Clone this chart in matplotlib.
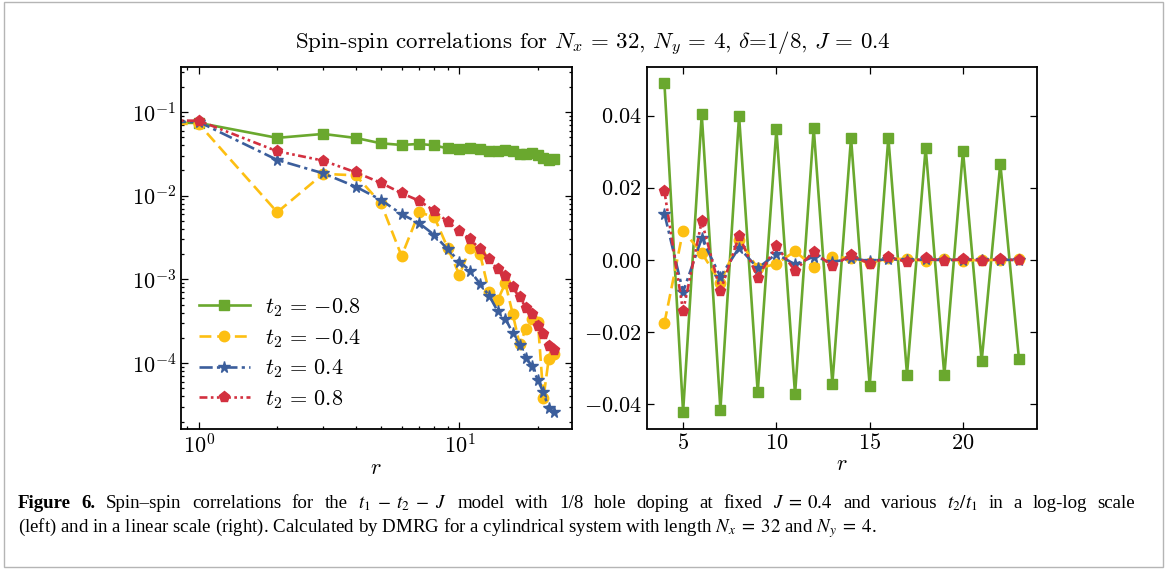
import numpy as np
import matplotlib
matplotlib.use('Agg')
import matplotlib.pyplot as plt
from matplotlib.ticker import FuncFormatter, FixedLocator, NullLocator
from matplotlib.patches import Rectangle

#=============================================================
# DATA: spin-spin correlation C(r), r = 0..23
r = np.arange(24)

c_m08 = [0.219, -0.074, 0.049, -0.0546, 0.0489, -0.0422, 0.0403, -0.0415,
         0.0399, -0.0367, 0.0362, -0.0373, 0.0365, -0.0343, 0.0338, -0.0349,
         0.0339, -0.0318, 0.0311, -0.0320, 0.0302, -0.0281, 0.0267, -0.0275]
c_m04 = [0.219, -0.072, 0.00634, 0.0182, -0.0175, 0.0081, 0.0019, -0.0063,
         0.0056, -0.0024, -0.00113, 0.0024, -0.0020, 0.00070, 0.00056, -0.00090,
         0.00039, 0.000169, -0.000255, 0.000337, -0.00031, 0.0000383, -0.000112, 0.000129]
c_p04 = [0.219, -0.076, 0.0267, -0.0185, 0.0128, -0.0089, 0.0060, -0.0047,
         0.0034, -0.0023, 0.00163, -0.00127, 0.00088, -0.00064, 0.00042, -0.00034,
         0.00023, -0.000164, 0.000115, -0.000092, 0.000062, -0.0000446, 0.0000288, -0.000026]
c_p08 = [0.219, -0.0787, 0.0339, -0.0262, 0.0190, -0.0142, 0.0107, -0.0087,
         0.0066, -0.0049, 0.0038, -0.0030, 0.0023, -0.00174, 0.00132, -0.00109,
         0.00080, -0.00061, 0.00046, -0.00039, 0.00028, -0.00022, 0.00016, -0.000142]

labels = [r'$t_2\,=\,{-0.8}$', r'$t_2\,=\,{-0.4}$', r'$t_2\,=\,0.4$', r'$t_2\,=\,0.8$']
r_min_lin = 4   # linear panel starts at r = 4

title = r'Spin-spin correlations for $N_x\,=\,32$, $N_y\,=\,4$, $\delta$=1/8, $J\,=\,0.4$'
caption1 = [('Figure', 'bold'), ('6.', 'bold')] + [(w, 'normal') for w in
            ['Spin–spin', 'correlations', 'for', 'the', r'$t_1\;-\;t_2\;-\;J$', 'model', 'with',
             '1/8', 'hole', 'doping', 'at', 'fixed', r'$J\;=\;0.4$', 'and', 'various',
             r'$t_2/t_1$', 'in', 'a', 'log-log', 'scale']]
caption2 = r'(left) and in a linear scale (right). Calculated by DMRG for a cylindrical system with length $N_x\;=\;32$ and $N_y\;=\;4$.'

#=============================================================
# STYLE
plt.rcParams['font.family'] = 'serif'
plt.rcParams['font.serif'] = ['cmr10']
plt.rcParams['mathtext.fontset'] = 'cm'
plt.rcParams['axes.formatter.use_mathtext'] = True
plt.rcParams['axes.unicode_minus'] = True

colors = ['#6aa82e', '#fdbf12', '#3b5e9c', '#d3303f']
markers = ['s', 'o', '*', 'p']
msizes = [7, 7.5, 8.5, 8]
styles = ['-', (0, (4.5, 2.2)), (0, (5, 1.6, 1.2, 1.6)), (0, (3, 1.3, 1, 1.3, 1, 1.3))]
series = [c_m08, c_m04, c_p04, c_p08]

W, H = 1167, 569
fig = plt.figure(figsize=(W / 100, H / 100), dpi=100)

ax1 = fig.add_axes([181 / W, 1 - 428.5 / H, 390.5 / W, 361.5 / H])
ax2 = fig.add_axes([646.7 / W, 1 - 428.5 / H, 390 / W, 361.5 / H])

for c, col, mk, ms, ls, lab in zip(series, colors, markers, msizes, styles, labels):
    ax1.plot(r, np.abs(c), color=col, marker=mk, markersize=ms, linestyle=ls,
             linewidth=1.9, label=lab)
    ax2.plot(r[r_min_lin:], c[r_min_lin:], color=col, marker=mk, markersize=ms,
             linestyle=ls, linewidth=1.9)

ax1.set_xscale('log')
ax1.set_yscale('log')

for ax in (ax1, ax2):
    ax.tick_params(which='both', direction='in', top=True, right=True,
                   labelsize=16, width=0.9)
    ax.tick_params(which='major', length=5)
    ax.tick_params(which='minor', length=2.5)
    for s in ax.spines.values():
        s.set_linewidth(1.3)
    ax.set_xlabel(r'$r$', fontsize=16, labelpad=1)

ax2.xaxis.set_major_locator(FixedLocator([5, 10, 15, 20]))
ax2.yaxis.set_major_locator(FixedLocator([-0.04, -0.02, 0.0, 0.02, 0.04]))
ax2.yaxis.set_major_formatter(FuncFormatter(lambda v, p: r'$%.2f$' % v))
ax2.xaxis.set_minor_locator(NullLocator())
ax2.yaxis.set_minor_locator(NullLocator())

ax1.legend(loc='lower left', frameon=False, fontsize=16, handlelength=2.3,
           handletextpad=0.7, labelspacing=0.35, numpoints=1, borderaxespad=0.4)

fig.text(593 / W, 1 - 44 / H, title, ha='center', va='center', fontsize=16.5)

#=============================================================
# CAPTION (first line justified to the full width)
cap_fs = 13.6
rend = fig.canvas.get_renderer()
x0, x1 = 18, 1135
arts = [fig.text(0, 1 - 508 / H, t, fontsize=cap_fs, fontweight=wt,
                 family='Liberation Serif', math_fontfamily='stix', va='baseline')
        for t, wt in caption1]
widths = [a.get_window_extent(rend).width for a in arts]
gap = (x1 - x0 - sum(widths)) / (len(arts) - 1)
x = x0
for a, w in zip(arts, widths):
    a.set_x(x / W)
    x += w + gap
fig.text(x0 / W, 1 - 532 / H, caption2, fontsize=cap_fs, family='Liberation Serif',
         math_fontfamily='stix', va='baseline', ha='left')

fig.add_artist(Rectangle((4 / W, 2 / H), 1 - 8 / W, 1 - 4 / H, transform=fig.transFigure,
                         fill=False, edgecolor='#b5b5b5', linewidth=1))

fig.savefig('out.png', dpi=100)
